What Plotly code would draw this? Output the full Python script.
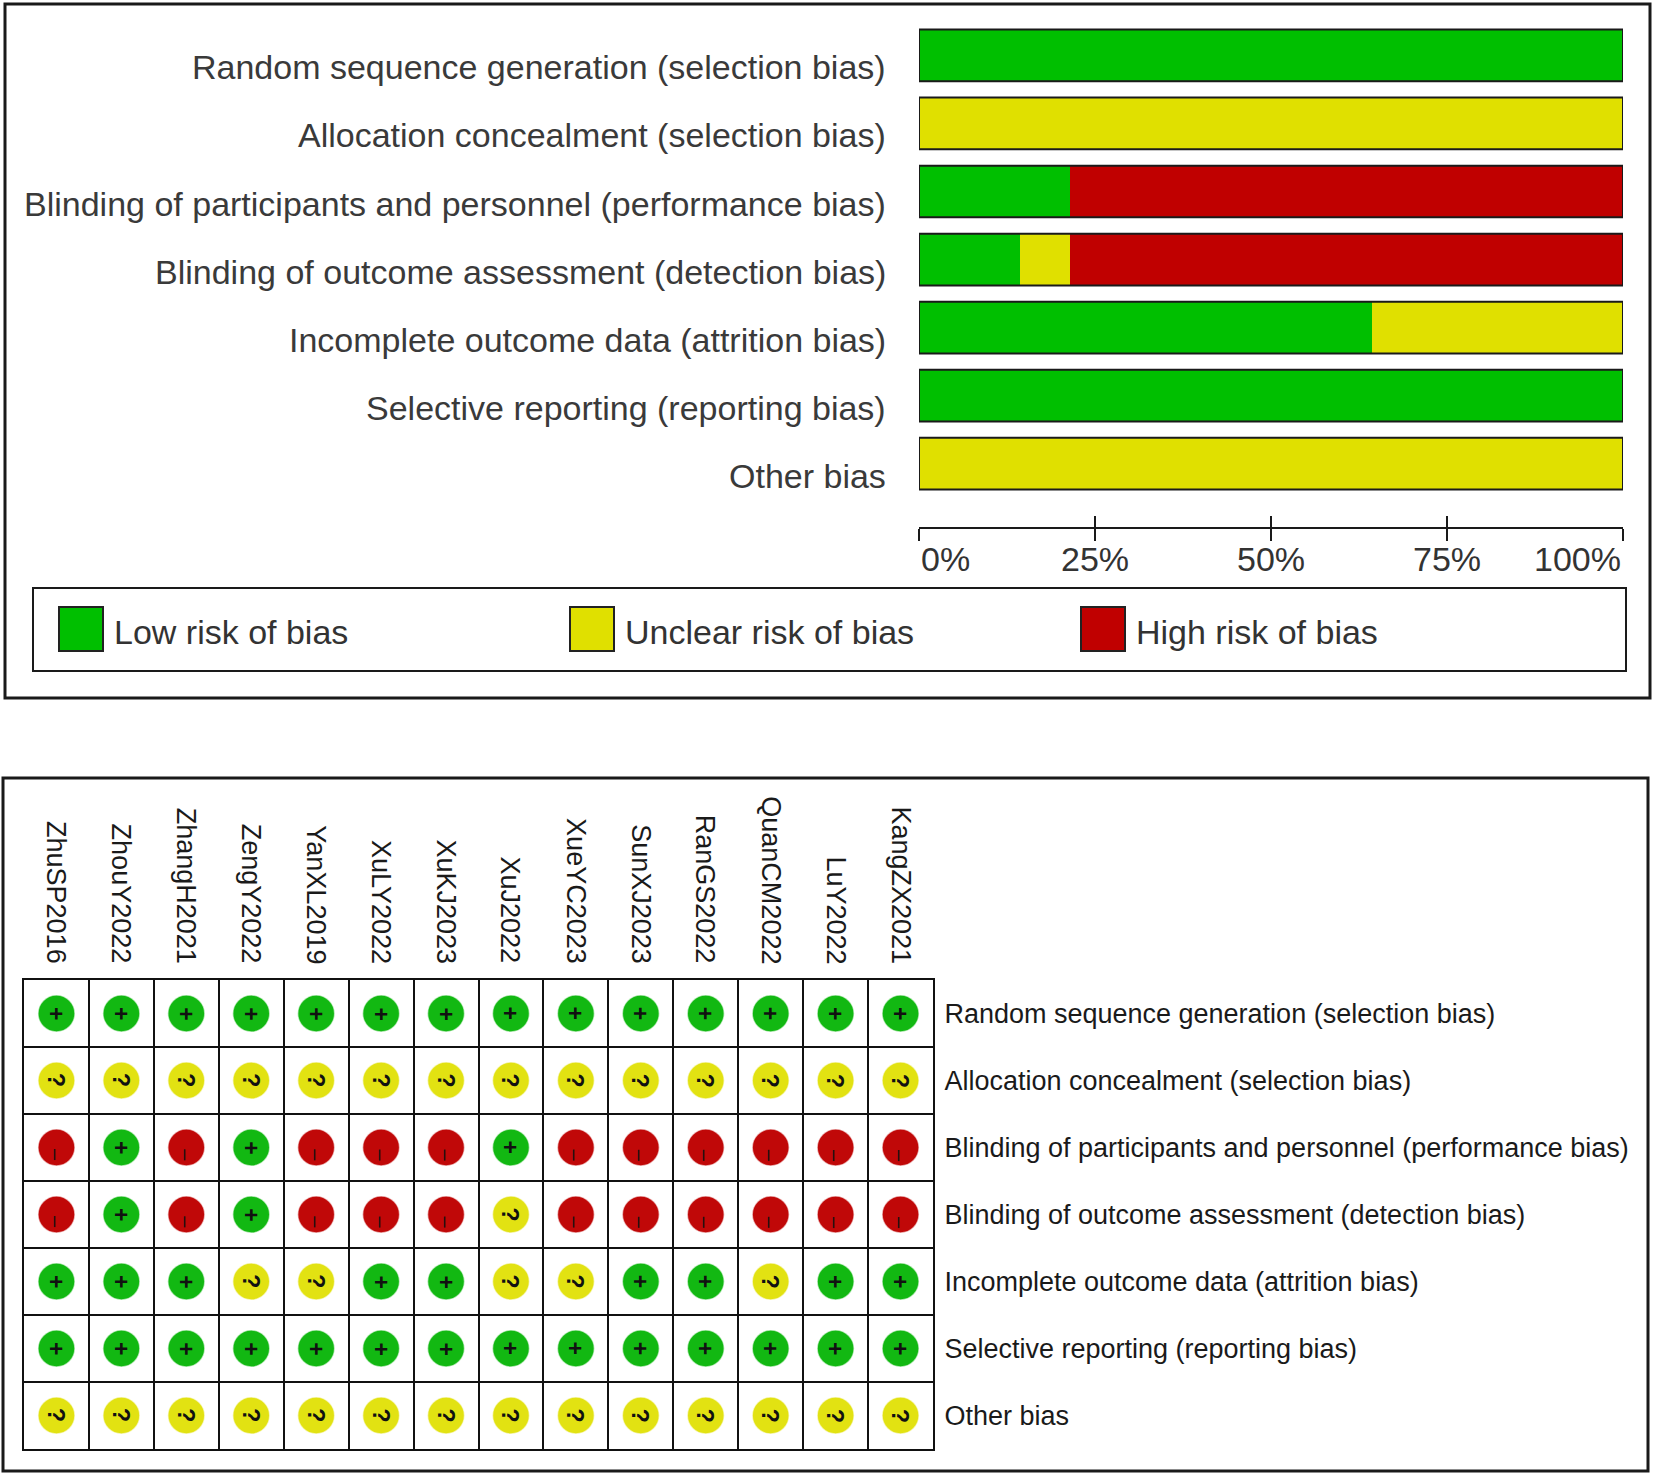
import plotly.graph_objects as go

W, H = 1654, 1474

domains = [
    "Random sequence generation (selection bias)",
    "Allocation concealment (selection bias)",
    "Blinding of participants and personnel (performance bias)",
    "Blinding of outcome assessment (detection bias)",
    "Incomplete outcome data (attrition bias)",
    "Selective reporting (reporting bias)",
    "Other bias",
]

studies = ["ZhuSP2016", "ZhouY2022", "ZhangH2021", "ZengY2022", "YanXL2019",
           "XuLY2022", "XuKJ2023", "XuJ2022", "XueYC2023", "SunXJ2023",
           "RanGS2022", "QuanCM2022", "LuY2022", "KangZX2021"]

# judgements per domain (row), one entry per study: + low, ? unclear, - high
random_seq   = ["+"] * 14
allocation   = ["?"] * 14
blind_part   = ["-", "+", "-", "+", "-", "-", "-", "+", "-", "-", "-", "-", "-", "-"]
blind_outc   = ["-", "+", "-", "+", "-", "-", "-", "?", "-", "-", "-", "-", "-", "-"]
incomplete   = ["+", "+", "+", "?", "?", "+", "+", "?", "?", "+", "+", "?", "+", "+"]
selective    = ["+"] * 14
other        = ["?"] * 14
judgements = [random_seq, allocation, blind_part, blind_outc, incomplete, selective, other]

levels = ["+", "?", "-"]
level_names = ["Low risk of bias", "Unclear risk of bias", "High risk of bias"]
bar_colors = ["#00BF00", "#E0E000", "#C00000"]
dot_colors = ["#12B812", "#E2E212", "#C00808"]

tick_vals = [0, 25, 50, 75, 100]
tick_text = ["0%", "25%", "50%", "75%", "100%"]

FONT = "Liberation Sans, Arial, sans-serif"


def py(p):
    return 1 - p / H


def px(p):
    return p / W


fig = go.Figure()

# ---------- top: summary stacked bars ----------
for lv, name, col in zip(levels, level_names, bar_colors):
    vals = []
    for row in judgements:
        v = 100.0 * row.count(lv) / len(row)
        vals.append(v if v > 0 else None)
    fig.add_trace(go.Bar(
        x=vals, y=list(range(len(domains))), orientation="h", name=name,
        marker=dict(color=col, line=dict(width=0)),
        width=0.76, xaxis="x", yaxis="y", showlegend=False,
        hovertext=domains, hoverinfo="x+text+name",
    ))

# outline of each bar and its label
for i, d in enumerate(domains):
    fig.add_shape(type="rect", xref="x", yref="y",
                  x0=0, x1=100, y0=i - 0.38, y1=i + 0.38,
                  line=dict(color="#1a1a1a", width=2), fillcolor="rgba(0,0,0,0)")
    fig.add_annotation(x=px(888), y=i, xref="paper", yref="y", text=d,
                       showarrow=False, xanchor="right", yanchor="middle", yshift=-12,
                       font=dict(family=FONT, size=34, color="#3a3a3a"))

# x-axis tick labels
for i, (tv, tt) in enumerate(zip(tick_vals, tick_text)):
    anchor = "left" if i == 0 else ("right" if i == len(tick_vals) - 1 else "center")
    fig.add_annotation(x=tv, y=py(559), xref="x", yref="paper", text=tt,
                       showarrow=False, xanchor=anchor, yanchor="middle",
                       font=dict(family=FONT, size=34, color="#333333"))

# ---------- bottom: traffic-light grid ----------
for r, row in enumerate(judgements):
    for lv, col in zip(levels, dot_colors):
        xs = [c for c, j in enumerate(row) if j == lv]
        if xs:
            fig.add_trace(go.Scatter(
                x=xs, y=[r] * len(xs), mode="markers", xaxis="x2", yaxis="y2",
                marker=dict(size=37, color=col, line=dict(width=1.5, color="rgba(255,255,255,0.6)")),
                showlegend=False, hoverinfo="skip",
            ))
    for c, j in enumerate(row):
        if j == "-":
            txt, fs, ys = "–", 20, -8
        else:
            txt, fs, ys = "<b>" + j + "</b>", 23, 0
        fig.add_annotation(x=c, y=r, xref="x2", yref="y2", text=txt,
                           showarrow=False, textangle=90, yshift=ys,
                           font=dict(family=FONT, size=fs, color="#111111"))

for c, s in enumerate(studies):
    fig.add_annotation(x=c, y=py(966), xref="x2", yref="paper", text=s,
                       showarrow=False, textangle=90, xanchor="center", yanchor="bottom",
                       font=dict(family=FONT, size=27, color="#1a1a1a"))

# ---------- legend (shapes + text) ----------
leg_sq = [(59, 103), (570, 614), (1081, 1125)]
for (x0, x1), name, col in zip(leg_sq, level_names, bar_colors):
    fig.add_shape(type="rect", xref="paper", yref="paper",
                  x0=px(x0), x1=px(x1), y0=py(651), y1=py(607),
                  fillcolor=col, line=dict(color="#222222", width=2))
    fig.add_annotation(x=px(x1 + 9), y=py(632), xref="paper", yref="paper", text=name,
                       showarrow=False, xanchor="left", yanchor="middle",
                       font=dict(family=FONT, size=34, color="#333333"))

# legend box and panel frames
fig.add_shape(type="rect", xref="paper", yref="paper", x0=px(33), x1=px(1626),
              y0=py(671), y1=py(588), line=dict(color="#1a1a1a", width=2))
fig.add_shape(type="rect", xref="paper", yref="paper", x0=px(5), x1=px(1650),
              y0=py(698), y1=py(4), line=dict(color="#1a1a1a", width=3))
fig.add_shape(type="rect", xref="paper", yref="paper", x0=px(3), x1=px(1648),
              y0=py(1471), y1=py(778), line=dict(color="#1a1a1a", width=3))

fig.update_layout(
    width=W, height=H, margin=dict(l=0, r=0, t=0, b=0),
    paper_bgcolor="white", plot_bgcolor="white",
    barmode="stack", bargap=0,
    font=dict(family=FONT, color="#333333"),
    xaxis=dict(domain=[px(919), px(1623)], range=[0, 100], anchor="free",
               position=py(527.5), tickvals=tick_vals, ticktext=tick_text,
               showticklabels=False, ticks="outside", ticklen=12, tickwidth=2,
               tickcolor="#1a1a1a", showline=True, linecolor="#1a1a1a", linewidth=2,
               showgrid=False, zeroline=False, fixedrange=True),
    xaxis3=dict(domain=[px(919), px(1623)], range=[0, 100], anchor="free",
                position=py(527.5), overlaying="x", tickvals=tick_vals,
                showticklabels=False, ticks="inside", ticklen=12, tickwidth=2,
                tickcolor="#1a1a1a", showline=False, showgrid=False, zeroline=False),
    yaxis=dict(domain=[py(497.7), py(21.4)], range=[len(domains) - 0.5, -0.5],
               showgrid=False, zeroline=False, showline=False, ticks="",
               showticklabels=False, anchor="x"),
    xaxis2=dict(domain=[px(24), px(933)], range=[-0.5, len(studies) - 0.5],
                anchor="y2", showticklabels=False, ticks="", showgrid=False,
                zeroline=False, showline=True, mirror=True, linecolor="#111111", linewidth=2,
                tickvals=list(range(len(studies))),
                minor=dict(tick0=-0.5, dtick=1, showgrid=True, gridcolor="#111111",
                           gridwidth=2, ticks="")),
    yaxis2=dict(domain=[py(1449), py(980)], range=[len(domains) - 0.5, -0.5],
                anchor="x2", side="right", tickvals=list(range(len(domains))),
                ticktext=domains, ticks="", ticklabelstandoff=4, showgrid=False,
                zeroline=False, showline=True, mirror=True, linecolor="#111111", linewidth=2,
                tickfont=dict(family=FONT, size=27, color="#1a1a1a"),
                minor=dict(tick0=-0.5, dtick=1, showgrid=True, gridcolor="#111111",
                           gridwidth=2, ticks="")),
)
# a dummy trace so xaxis3 is rendered
fig.add_trace(go.Scatter(x=[None], y=[None], xaxis="x3", yaxis="y", showlegend=False))

fig.write_html("out.html", config={"displayModeBar": False},
               post_script="document.body.style.margin='0';")
